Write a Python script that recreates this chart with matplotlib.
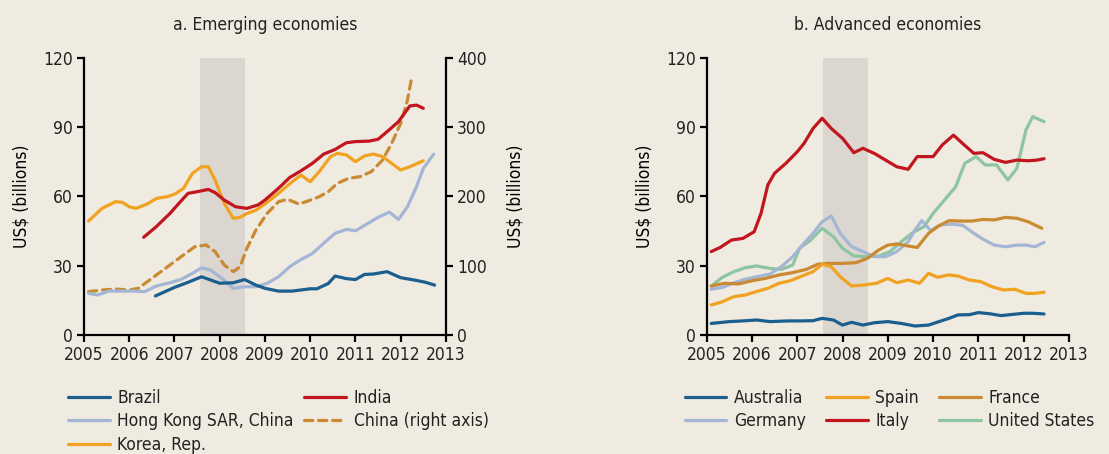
import matplotlib
matplotlib.use("Agg")
import matplotlib.pyplot as plt

# Trade flows, US$ billions (China on a separate right-hand axis)
brazil_x = [2006.58, 2007.0, 2007.3, 2007.6, 2008.0, 2008.3, 2008.55, 2008.8, 2009.0, 2009.3,
            2009.6, 2010.0, 2010.15, 2010.4, 2010.55, 2010.8, 2011.0, 2011.2, 2011.4, 2011.7,
            2012.0, 2012.3, 2012.55, 2012.75]
brazil_y = [16.9, 20.6, 22.8, 25.2, 22.4, 22.6, 24.0, 21.6, 20.2, 19.0,
            19.0, 20.0, 20.0, 22.3, 25.5, 24.4, 24.0, 26.2, 26.4, 27.4,
            24.8, 23.8, 22.8, 21.6]

india_x = [2006.32, 2006.6, 2006.9, 2007.1, 2007.3, 2007.5, 2007.75, 2007.9, 2008.1, 2008.35,
           2008.6, 2008.85, 2009.0, 2009.3, 2009.55, 2009.8, 2010.05, 2010.3, 2010.55, 2010.8,
           2011.0, 2011.3, 2011.5, 2011.7, 2011.95, 2012.2, 2012.35, 2012.5]
india_y = [42.3, 46.9, 52.6, 57.0, 61.3, 62.0, 63.0, 61.6, 58.4, 55.5,
           54.8, 56.3, 58.4, 63.5, 68.2, 71.1, 74.3, 78.3, 80.3, 83.2,
           83.7, 83.9, 84.7, 88.0, 92.3, 99.1, 99.5, 98.1]

hongkong_x = [2005.1, 2005.3, 2005.55, 2005.8, 2006.1, 2006.35, 2006.6, 2006.9, 2007.15, 2007.4,
              2007.6, 2007.8, 2008.05, 2008.3, 2008.55, 2008.8, 2009.05, 2009.3, 2009.55, 2009.8,
              2010.05, 2010.3, 2010.55, 2010.8, 2011.0, 2011.25, 2011.5, 2011.75, 2011.95, 2012.15,
              2012.35, 2012.5, 2012.73]
hongkong_y = [18.0, 17.3, 19.0, 19.0, 19.0, 18.8, 21.2, 22.6, 24.1, 26.7,
              29.1, 28.1, 24.5, 20.2, 20.9, 20.9, 22.4, 25.2, 29.6, 32.7,
              35.3, 39.7, 44.0, 45.7, 45.1, 48.0, 50.9, 53.2, 50.0, 55.5,
              64.2, 72.1, 78.3]

china_x = [2005.1, 2005.4, 2005.7, 2006.0, 2006.2, 2006.45, 2006.7, 2006.95, 2007.2, 2007.45,
           2007.7, 2007.9, 2008.1, 2008.3, 2008.45, 2008.6, 2008.8, 2009.05, 2009.3, 2009.5,
           2009.75, 2009.95, 2010.2, 2010.4, 2010.6, 2010.85, 2011.1, 2011.35, 2011.6, 2011.8,
           2012.0, 2012.15, 2012.24]
china_y = [62.5, 64.9, 66.3, 64.9, 67.3, 79.3, 91.3, 103.4, 115.4, 127.4,
           129.8, 120.2, 101.0, 91.3, 98.6, 125.0, 151.4, 175.5, 192.3, 195.7,
           189.0, 193.3, 199.5, 206.7, 218.8, 226.0, 228.4, 235.6, 252.4, 276.4,
           305.3, 338.9, 370.2]

korea_x = [2005.1, 2005.4, 2005.7, 2005.85, 2006.0, 2006.15, 2006.4, 2006.6, 2006.85, 2007.0,
           2007.2, 2007.4, 2007.6, 2007.75, 2007.9, 2008.1, 2008.3, 2008.45, 2008.6, 2008.8,
           2009.0, 2009.3, 2009.6, 2009.8, 2010.0, 2010.2, 2010.45, 2010.6, 2010.8, 2011.0,
           2011.2, 2011.4, 2011.6, 2011.8, 2012.0, 2012.2, 2012.5]
korea_y = [49.3, 54.8, 57.7, 57.4, 55.5, 54.8, 56.7, 59.1, 59.9, 60.9,
           63.5, 70.0, 72.8, 72.8, 67.0, 57.0, 50.5, 50.9, 52.6, 54.0,
           56.7, 61.3, 66.3, 69.2, 66.3, 70.7, 77.2, 78.6, 77.9, 75.0,
           77.5, 78.3, 77.2, 74.3, 71.4, 72.8, 75.4]

australia_x = [2005.1, 2005.5, 2005.8, 2006.1, 2006.4, 2006.8, 2007.1, 2007.35, 2007.55, 2007.8,
               2008.0, 2008.2, 2008.45, 2008.7, 2009.0, 2009.3, 2009.6, 2009.9, 2010.1, 2010.35,
               2010.55, 2010.8, 2011.0, 2011.25, 2011.5, 2011.75, 2012.0, 2012.2, 2012.45]
australia_y = [5.0, 5.8, 6.1, 6.5, 5.8, 6.1, 6.1, 6.2, 7.2, 6.5,
               4.3, 5.5, 4.3, 5.3, 5.8, 5.0, 3.9, 4.3, 5.6, 7.2,
               8.7, 8.8, 9.7, 9.2, 8.4, 8.9, 9.4, 9.4, 9.1]

spain_x = [2005.1, 2005.35, 2005.6, 2005.85, 2006.1, 2006.35, 2006.6, 2006.85, 2007.1, 2007.35,
           2007.55, 2007.75, 2007.95, 2008.2, 2008.45, 2008.75, 2009.0, 2009.2, 2009.45, 2009.7,
           2009.9, 2010.1, 2010.35, 2010.55, 2010.8, 2011.05, 2011.3, 2011.55, 2011.8, 2012.05,
           2012.25, 2012.45]
spain_y = [13.0, 14.4, 16.6, 17.3, 18.8, 20.2, 22.4, 23.5, 25.5, 27.4,
           30.6, 29.6, 25.2, 21.2, 21.6, 22.4, 24.5, 22.6, 23.8, 22.4,
           26.7, 25.0, 26.0, 25.5, 23.8, 23.1, 20.9, 19.5, 19.8, 18.0,
           18.0, 18.5]

france_x = [2005.1, 2005.4, 2005.7, 2006.0, 2006.3, 2006.6, 2006.9, 2007.2, 2007.45, 2007.7,
            2008.0, 2008.3, 2008.55, 2008.8, 2009.0, 2009.2, 2009.45, 2009.65, 2009.9, 2010.1,
            2010.35, 2010.6, 2010.85, 2011.1, 2011.35, 2011.6, 2011.85, 2012.1, 2012.4]
france_y = [21.2, 22.4, 22.1, 23.5, 24.5, 26.0, 27.0, 28.4, 30.6, 31.0,
            31.0, 31.3, 33.2, 36.8, 38.9, 39.4, 38.5, 37.9, 44.0, 46.9,
            49.5, 49.3, 49.3, 50.0, 49.8, 50.9, 50.5, 49.0, 46.2]

germany_x = [2005.1, 2005.35, 2005.6, 2005.85, 2006.1, 2006.4, 2006.65, 2006.9, 2007.15, 2007.35,
             2007.55, 2007.75, 2007.95, 2008.2, 2008.45, 2008.7, 2008.95, 2009.2, 2009.45, 2009.6,
             2009.75, 2009.95, 2010.15, 2010.4, 2010.65, 2010.9, 2011.1, 2011.35, 2011.6, 2011.85,
             2012.05, 2012.25, 2012.45]
germany_y = [19.8, 20.6, 22.6, 24.1, 25.2, 26.4, 29.6, 33.9, 39.7, 44.0,
             49.0, 51.5, 44.0, 38.2, 36.1, 33.9, 33.9, 36.1, 40.4, 45.4,
             49.5, 45.1, 47.6, 48.0, 47.5, 44.0, 41.5, 38.9, 38.2, 38.9,
             38.9, 38.2, 40.1]

italy_x = [2005.1, 2005.3, 2005.55, 2005.8, 2006.05, 2006.2, 2006.35, 2006.5, 2006.75, 2007.0,
           2007.15, 2007.35, 2007.55, 2007.75, 2008.0, 2008.25, 2008.45, 2008.7, 2008.95, 2009.2,
           2009.45, 2009.65, 2009.85, 2010.0, 2010.2, 2010.45, 2010.65, 2010.9, 2011.1, 2011.35,
           2011.6, 2011.85, 2012.1, 2012.3, 2012.45]
italy_y = [36.1, 37.9, 41.1, 41.8, 44.7, 52.6, 64.9, 70.0, 74.3, 79.3,
           82.9, 89.4, 93.8, 89.4, 85.1, 78.9, 80.8, 78.6, 75.7, 72.8,
           71.7, 77.2, 77.2, 77.2, 82.2, 86.5, 82.9, 78.6, 78.9, 76.0,
           74.7, 75.7, 75.4, 75.7, 76.3]

us_x = [2005.1, 2005.35, 2005.6, 2005.85, 2006.1, 2006.4, 2006.65, 2006.9, 2007.05, 2007.3,
        2007.55, 2007.8, 2008.0, 2008.25, 2008.5, 2008.8, 2009.05, 2009.3, 2009.55, 2009.8,
        2010.0, 2010.25, 2010.5, 2010.7, 2010.95, 2011.15, 2011.4, 2011.65, 2011.85, 2012.05,
        2012.2, 2012.45]
us_y = [21.2, 25.0, 27.4, 29.1, 29.9, 28.8, 28.4, 30.3, 37.5, 41.1,
        46.2, 42.5, 37.5, 34.2, 33.9, 34.2, 36.1, 40.4, 44.3, 46.9,
        52.6, 58.4, 64.2, 74.3, 77.2, 73.6, 73.6, 67.1, 72.1, 88.7,
        94.5, 92.3]

# crisis period shading
crisis = (2007.57, 2008.56)
years = list(range(2005, 2014))
left_ticks = [0, 30, 60, 90, 120]
right_ticks = [0, 100, 200, 300, 400]

BG = "#efebe1"
SHADE = "#dbd7d0"
BLUE = "#1a5f8e"
RED = "#c1161e"
LIGHTBLUE = "#a4b6d6"
GOLD = "#c98a33"
ORANGE = "#f0a220"
GREEN = "#8ec5a1"

plt.rcParams["font.family"] = ["DejaVu Sans"]
plt.rcParams["font.stretch"] = "condensed"
plt.rcParams["text.color"] = "#222222"
plt.rcParams["xtick.labelcolor"] = "#222222"
plt.rcParams["ytick.labelcolor"] = "#222222"

FS = 12.5
LW = 2.3

fig = plt.figure(figsize=(11.09, 4.54), dpi=100, facecolor=BG)
ax1 = fig.add_axes([0.0757, 0.2621, 0.3264, 0.6108])
ax2 = fig.add_axes([0.6372, 0.2621, 0.3267, 0.6108])


def style_axis(ax):
    ax.set_xlim(2005, 2013)
    ax.set_ylim(0, 120)
    ax.set_xticks(years)
    ax.set_yticks(left_ticks)
    for side in ("top", "right"):
        ax.spines[side].set_visible(False)
    for side in ("left", "bottom"):
        ax.spines[side].set_linewidth(1.6)
    ax.tick_params(direction="out", length=5, width=1.6, pad=3, labelsize=FS)
    ax.set_ylabel("US$ (billions)", fontsize=FS, labelpad=9)


def draw(ax, x, y, color, label):
    return ax.plot(x, y, color=color, lw=LW, label=label,
                   solid_capstyle="round", solid_joinstyle="round")[0]


# a. Emerging economies: twin axis sits underneath and carries the shading
style_axis(ax1)
ax1.set_title("a. Emerging economies", fontsize=FS, pad=20)
axr = ax1.twinx()
axr.set_ylim(0, 400)
axr.set_yticks(right_ticks)
for side in ("top", "left", "bottom"):
    axr.spines[side].set_visible(False)
axr.spines["right"].set_linewidth(1.6)
axr.tick_params(direction="out", length=5, width=1.6, pad=3, labelsize=FS)
axr.set_ylabel("US$ (billions)", fontsize=FS, labelpad=14)
axr.set_zorder(ax1.get_zorder() - 1)
axr.set_facecolor(BG)
ax1.patch.set_visible(False)
axr.axvspan(*crisis, color=SHADE, lw=0, zorder=0)

h_china = axr.plot(china_x, china_y, color=GOLD, lw=LW, ls=(0, (2.6, 1.8)),
                   dash_capstyle="round", label="China (right axis)")[0]
h_hk = draw(ax1, hongkong_x, hongkong_y, LIGHTBLUE, "Hong Kong SAR, China")
h_brazil = draw(ax1, brazil_x, brazil_y, BLUE, "Brazil")
h_korea = draw(ax1, korea_x, korea_y, ORANGE, "Korea, Rep.")
h_india = draw(ax1, india_x, india_y, RED, "India")

fig.legend([h_brazil, h_hk, h_korea, h_india, h_china],
           ["Brazil", "Hong Kong SAR, China", "Korea, Rep.", "India", "China (right axis)"],
           ncol=2, loc="upper left", bbox_to_anchor=(0.055, 0.159),
           frameon=False, fontsize=FS, handlelength=2.4, handletextpad=0.45,
           columnspacing=0.6, labelspacing=0.32, borderaxespad=0)

# b. Advanced economies
style_axis(ax2)
ax2.set_facecolor(BG)
ax2.axvspan(*crisis, color=SHADE, lw=0, zorder=0)
ax2.set_title("b. Advanced economies", fontsize=FS, pad=20)
h_us = draw(ax2, us_x, us_y, GREEN, "United States")
h_de = draw(ax2, germany_x, germany_y, LIGHTBLUE, "Germany")
h_fr = draw(ax2, france_x, france_y, GOLD, "France")
h_es = draw(ax2, spain_x, spain_y, ORANGE, "Spain")
h_au = draw(ax2, australia_x, australia_y, BLUE, "Australia")
h_it = draw(ax2, italy_x, italy_y, RED, "Italy")

fig.legend([h_au, h_de, h_es, h_it, h_fr, h_us],
           ["Australia", "Germany", "Spain", "Italy", "France", "United States"],
           ncol=3, loc="upper left", bbox_to_anchor=(0.611, 0.159),
           frameon=False, fontsize=FS, handlelength=2.4, handletextpad=0.45,
           columnspacing=1.15, labelspacing=0.32, borderaxespad=0)

fig.savefig("out.png", dpi=100, facecolor=BG)
